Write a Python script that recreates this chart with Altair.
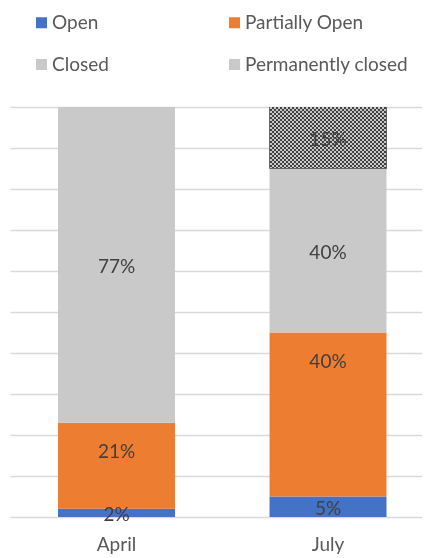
import altair as alt
import pandas as pd

months = ["April", "July"]
statuses = ["Open", "Partially Open", "Closed", "Permanently closed"]
april_values = [2, 21, 77, 0]
july_values = [5, 40, 40, 15]
status_colors = ["#4472c4", "#ed7d31", "#c9c9c9", "#c9c9c9"]

rows = []
for month, vals in zip(months, [april_values, july_values]):
    start = 0
    for s, v in zip(statuses, vals):
        if v > 0:
            rows.append({"month": month, "status": s, "value": v,
                         "y0": start, "y1": start + v, "mid": start + v / 2,
                         "label": f"{v}%"})
        start += v
df = pd.DataFrame(rows)


def stripes(n, c1, c2, horizontal):
    stops = []
    for i in range(n):
        c = c1 if i % 2 == 0 else c2
        stops.append({"offset": i / n, "color": c})
        stops.append({"offset": (i + 1) / n, "color": c})
    g = {"gradient": "linear", "stops": stops, "x1": 0, "y1": 0}
    if horizontal:
        g.update({"x2": 0, "y2": 1})
    else:
        g.update({"x2": 1, "y2": 0})
    return g


FONT = "Lato"
yscale = alt.Scale(domain=[0, 100], nice=False)

x_enc = alt.X("month:N", sort=months,
              scale=alt.Scale(paddingInner=0.447, paddingOuter=0.1975, align=0.575),
              axis=alt.Axis(title=None, labelAngle=0, ticks=False, domain=False,
                            labelFont=FONT, labelFontSize=19, labelColor="#595959",
                            labelPadding=18, grid=False))
y_enc = alt.Y("y0:Q", scale=yscale,
              axis=alt.Axis(values=list(range(0, 101, 10)), labels=False, ticks=False,
                            domain=False, title=None, grid=True,
                            gridColor="#d9d9d9", gridWidth=1.3))

base = alt.Chart(df).encode(x=x_enc, y=y_enc, y2="y1:Q")

bars = base.mark_bar().encode(
    color=alt.Color("status:N", sort=statuses,
                    scale=alt.Scale(domain=statuses, range=status_colors),
                    legend=alt.Legend(title=None, orient="none", legendX=22, legendY=-94,
                                      direction="horizontal",
                                      columns=2, symbolType="square", symbolSize=121,
                                      symbolStrokeWidth=0, labelFont=FONT, labelFontSize=19,
                                      labelColor="#595959", labelOffset=1,
                                      columnPadding=116, rowPadding=22, padding=0,
                                      labelLimit=300))
)

perm = base.transform_filter(alt.datum.status == "Permanently closed")
p1 = perm.mark_bar(color=stripes(31, "#000000", "#888888", True))
p2 = perm.mark_bar(color=stripes(58, "#000000", "#888888", False), blend="difference")
p3 = perm.mark_bar(color="#c8c8c8", blend="difference")

labels_mid = alt.Chart(df).transform_filter(
    alt.datum.status != "Partially Open"
).mark_text(font=FONT, fontSize=19, color="#404040", baseline="middle", dy=2).encode(
    x=x_enc, y=alt.Y("mid:Q", scale=yscale), text="label:N")

labels_top = alt.Chart(df).transform_filter(
    alt.datum.status == "Partially Open"
).mark_text(font=FONT, fontSize=19, color="#404040", baseline="middle", dy=29).encode(
    x=x_enc, y=alt.Y("y1:Q", scale=yscale), text="label:N")

chart = alt.layer(bars, p1, p2, p3, labels_mid, labels_top).properties(
    width=412, height=410,
    padding={"left": 2, "top": 99, "right": 0, "bottom": 40},
    autosize=alt.AutoSizeParams(type="none"),
).configure_view(stroke=None)

chart.save("out.html", embed_options={"renderer": "svg", "actions": False})
